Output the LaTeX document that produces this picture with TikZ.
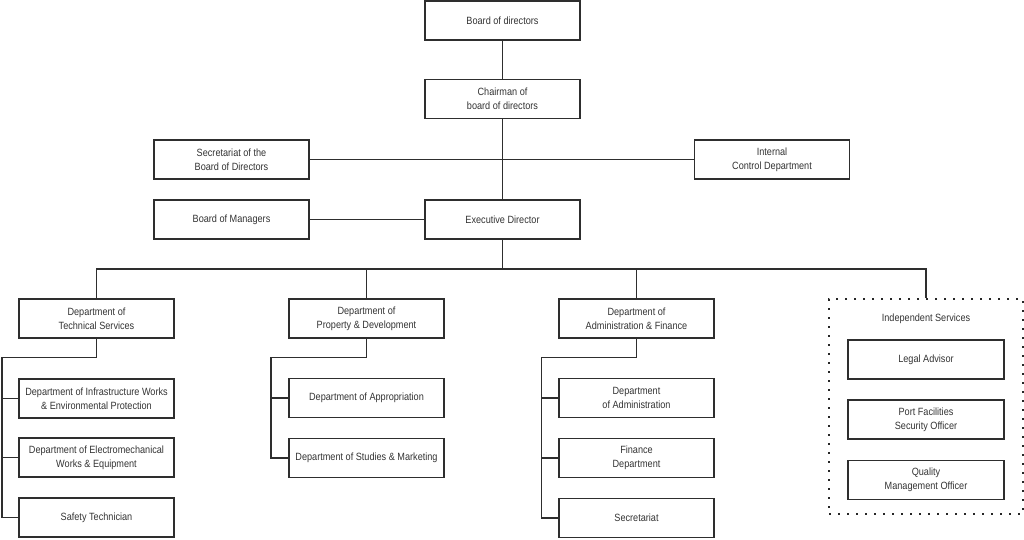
\documentclass[tikz,border=0pt]{standalone}
\usepackage{fontspec}
\setmainfont{Liberation Sans}[FakeStretch=0.87]
\begin{document}
\begin{tikzpicture}[x=1pt,y=-1pt,
  every node/.style={font=\fontsize{10.5}{13.6}\selectfont, text=black!80},
  box/.style={draw=black!82, line width=1.6pt, minimum width=155pt, minimum height=39pt, inner sep=0pt, align=center},
  conn/.style={draw=black!82, line width=1.2pt},
  dotbox/.style={draw=black!85, line width=2pt, dash pattern=on 2pt off 7pt, minimum width=194pt, minimum height=215pt, inner sep=0pt}
]
\useasboundingbox (0,0) rectangle (1024,539);

\node[box] (bod) at (502.5,20.5) {Board of directors};
\node[box] (chair) at (502.5,99) {Chairman of\\board of directors};
\node[box] (sec) at (231.5,159.5) {Secretariat of the\\Board of Directors};
\node[box] (icd) at (772,159.5) {Internal\\Control Department};
\node[box] (bom) at (231.5,219.5) {Board of Managers};
\node[box] (exec) at (502.5,219.5) {Executive Director};

\node[box] (tech) at (96.5,318.5) {Department of\\Technical Services};
\node[box] (prop) at (366.5,318.5) {Department of\\Property \& Development};
\node[box] (adm) at (636.5,318.5) {Department of\\Administration \& Finance};
\node[dotbox] (indep) at (926,406.5) {};
\node (indt) at (926,319) {Independent Services};

\node[box] (infra) at (96.5,398.5) {Department of Infrastructure Works\\\& Environmental Protection};
\node[box] (electro) at (96.5,457.5) {Department of Electromechanical\\Works \& Equipment};
\node[box] (safety) at (96.5,517.5) {Safety Technician};

\node[box] (approp) at (366.5,398) {Department of Appropriation};
\node[box] (studies) at (366.5,458) {Department of Studies \& Marketing};

\node[box] (admin) at (636.5,398) {Department\\of Administration};
\node[box] (fin) at (636.5,458) {Finance\\Department};
\node[box] (secr) at (636.5,518) {Secretariat};

\node[box, minimum width=156pt] (legal) at (926,359.5) {Legal Advisor};
\node[box, minimum width=156pt] (port) at (926,419.5) {Port Facilities\\Security Officer};
\node[box, minimum width=156pt] (qual) at (926,480) {Quality\\Management Officer};

% connectors
\draw[conn] (bod.south) -- (chair.north);
\draw[conn] (chair.south) -- (exec.north);
\draw[conn] (sec.east) -- (icd.west);
\draw[conn] (bom.east) -- (exec.west);

\coordinate (bus) at (502.5,269);
\draw[conn] (exec.south) -- (bus);
\draw[conn] (tech.north) |- (bus);
\draw[conn] (indep.north) |- (bus);
\draw[conn] (prop.north) -- (prop.north |- bus);
\draw[conn] (adm.north) -- (adm.north |- bus);

\coordinate (trail) at (2,357.5);
\draw[conn] (tech.south) |- (trail) |- (safety.west);
\draw[conn] (trail |- infra.west) -- (infra.west);
\draw[conn] (trail |- electro.west) -- (electro.west);

\coordinate (prail) at (271,357.5);
\draw[conn] (prop.south) |- (prail) |- (studies.west);
\draw[conn] (prail |- approp.west) -- (approp.west);

\coordinate (arail) at (541.5,357.5);
\draw[conn] (adm.south) |- (arail) |- (secr.west);
\draw[conn] (arail |- admin.west) -- (admin.west);
\draw[conn] (arail |- fin.west) -- (fin.west);
\end{tikzpicture}
\end{document}
